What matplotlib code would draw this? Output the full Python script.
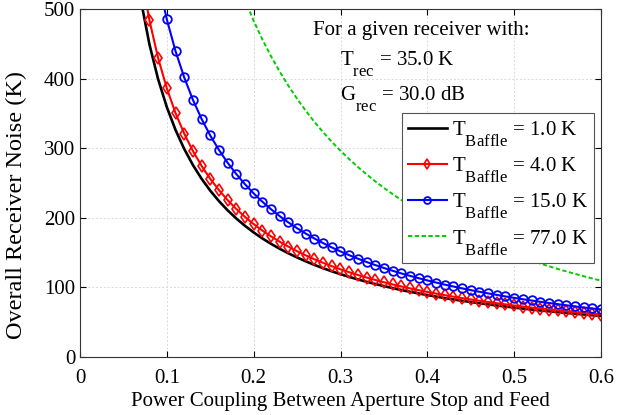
import numpy as np
import matplotlib
matplotlib.use("Agg")
import matplotlib.pyplot as plt
import matplotlib._mathtext as _mt

plt.rcParams['font.family'] = ['Liberation Serif', 'DejaVu Serif']
plt.rcParams['mathtext.fontset'] = 'custom'
plt.rcParams['mathtext.rm'] = 'Liberation Serif'
plt.rcParams['mathtext.it'] = 'Liberation Serif:italic'
# MATLAB-like subscripts: lower and less shrunk
_mt.FontConstantsBase.sub1 = 1.1
_mt.SHRINK_FACTOR = 0.8

coupling = np.round(np.arange(0.06, 0.6001, 0.01), 2)

noise_b1 = [599.0, 513.3, 449.0, 399.0, 359.0, 326.3, 299.0, 275.9, 256.1, 239.0,
            224.0, 210.8, 199.0, 188.5, 179.0, 170.4, 162.6, 155.5, 149.0, 143.0,
            137.5, 132.3, 127.6, 123.1, 119.0, 115.1, 111.5, 108.1, 104.9, 101.9,
            99.0, 96.3, 93.7, 91.3, 89.0, 86.8, 84.7, 82.7, 80.8, 79.0,
            77.3, 75.6, 74.0, 72.5, 71.0, 69.6, 68.2, 66.9, 65.7, 64.5,
            63.3, 62.2, 61.1, 60.0, 59.0]
noise_b4 = [646.0, 553.1, 483.5, 429.3, 386.0, 350.5, 321.0, 296.0, 274.6, 256.0,
            239.8, 225.4, 212.7, 201.3, 191.0, 181.7, 173.3, 165.6, 158.5, 152.0,
            146.0, 140.4, 135.3, 130.5, 126.0, 121.8, 117.9, 114.2, 110.7, 107.4,
            104.3, 101.4, 98.6, 96.0, 93.5, 91.1, 88.9, 86.7, 84.6, 82.7,
            80.8, 79.0, 77.3, 75.6, 74.0, 72.5, 71.0, 69.6, 68.2, 66.9,
            65.6, 64.4, 63.2, 62.1, 61.0]
noise_b15 = [818.3, 699.3, 610.0, 540.6, 485.0, 439.5, 401.7, 369.6, 342.1, 318.3,
             297.5, 279.1, 262.8, 248.2, 235.0, 223.1, 212.3, 202.4, 193.3, 185.0,
             177.3, 170.2, 163.6, 157.4, 151.7, 146.3, 141.3, 136.5, 132.1, 127.9,
             123.9, 120.1, 116.6, 113.2, 110.0, 107.0, 104.0, 101.3, 98.6, 96.1,
             93.7, 91.4, 89.2, 87.0, 85.0, 83.0, 81.2, 79.3, 77.6, 75.9,
             74.3, 72.7, 71.2, 69.7, 68.3]
coupling_77 = np.round(np.arange(0.18, 0.6001, 0.01), 2)
noise_b77 = [545.2, 512.5, 483.0, 456.3, 432.1, 410.0, 389.7, 371.0, 353.8, 337.8,
             323.0, 309.2, 296.3, 284.3, 273.0, 262.4, 252.4, 243.0, 234.1, 225.7,
             217.7, 210.2, 203.0, 196.2, 189.7, 183.5, 177.5, 171.9, 166.5, 161.3,
             156.3, 151.6, 147.0, 142.6, 138.4, 134.3, 130.4, 126.6, 123.0, 119.5,
             116.1, 112.8, 109.7]

labels = [r'$\mathregular{T_{Baffle}}$ = 1.0 K', r'$\mathregular{T_{Baffle}}$ = 4.0 K',
          r'$\mathregular{T_{Baffle}}$ = 15.0 K', r'$\mathregular{T_{Baffle}}$ = 77.0 K']

fig = plt.figure(figsize=(6.38, 4.15), dpi=100)
ax = fig.add_axes([80/638, 1-357/415, 521/638, 348/415])

ax.plot(coupling, noise_b1, color='black', lw=1.9, label=labels[0])
ax.plot(coupling, noise_b4, color='red', lw=1.5, marker='d', ms=6.5, mfc='none',
        mew=1.2, label=labels[1])
ax.plot(coupling, noise_b15, color='blue', lw=1.5, marker='o', ms=6.2, mfc='none',
        mew=1.3, label=labels[2])
ax.plot(coupling_77, noise_b77, color='#00cc00', lw=1.4, ls=(0, (2.2, 1.3)), label=labels[3])

ax.set_xlim(0, 0.6)
ax.set_ylim(0, 500)
ax.set_xticks(np.arange(0, 0.61, 0.1))
ax.set_xticklabels(['0', '0.1', '0.2', '0.3', '0.4', '0.5', '0.6'])
ax.set_yticks(np.arange(0, 501, 100))
ax.tick_params(direction='in', top=True, right=True, labelsize=15, length=4, width=0.8)
ax.tick_params(axis='x', pad=8.5)
ax.tick_params(axis='y', pad=3.5)
ax.grid(True, color='#d9d9d9', ls=(0, (2, 2)), lw=0.7)
for s in ax.spines.values():
    s.set_linewidth(0.8)
    s.set_color('#333333')

ax.set_xlabel('Power Coupling Between Aperture Stop and Feed', fontsize=15, labelpad=3)
ax.set_ylabel('Overall Receiver Noise (K)', fontsize=17.5, labelpad=2)
ax.yaxis.set_label_coords(-0.102, 0.437)

ax.text(0.447, 0.925, 'For a given receiver with:', transform=ax.transAxes, fontsize=15,
        ha='left', va='baseline')
ax.text(0.499, 0.839, r'$\mathregular{T_{rec}}$ = 35.0 K', transform=ax.transAxes, fontsize=15,
        ha='left', va='baseline')
ax.text(0.499, 0.7385, r'$\mathregular{G_{rec}}$ = 30.0 dB', transform=ax.transAxes, fontsize=15,
        ha='left', va='baseline')

leg = ax.legend(loc='upper right', bbox_to_anchor=(0.9866, 0.701), borderaxespad=0,
                fontsize=15, frameon=True, fancybox=False, edgecolor='#555555',
                framealpha=1, handlelength=1.85, handletextpad=0.25, borderpad=0.3,
                labelspacing=0.34, markerscale=0.8)
leg.get_frame().set_linewidth(0.8)

fig.savefig('out.png', dpi=100)
